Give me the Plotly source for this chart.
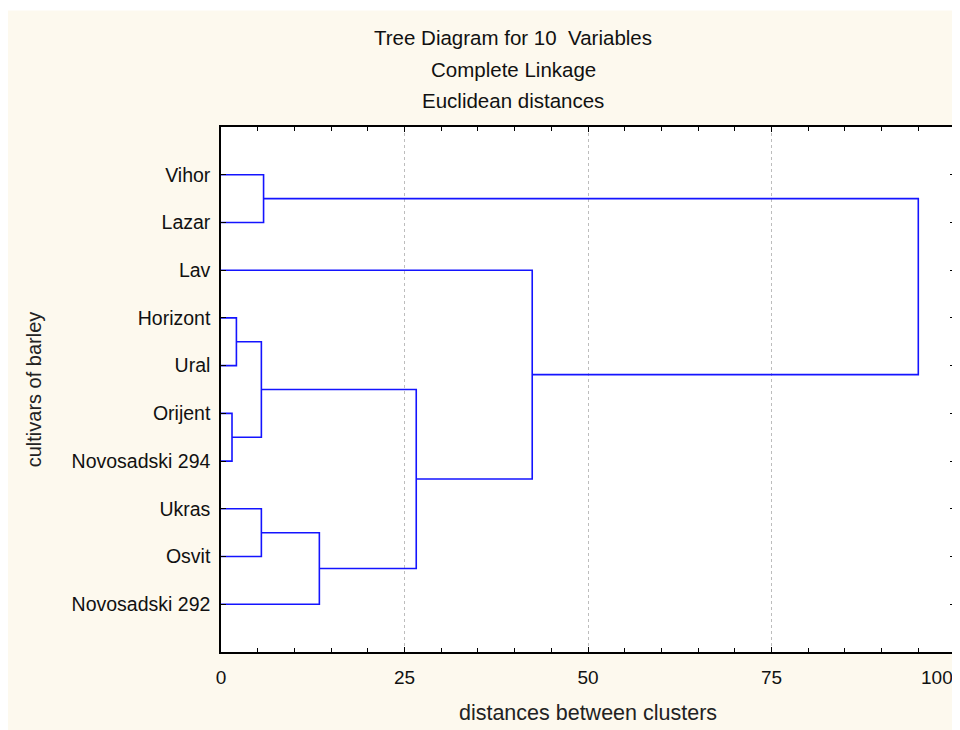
import plotly.graph_objects as go

# ---- data ----
leaves = ["Vihor", "Lazar", "Lav", "Horizont", "Ural", "Orijent",
          "Novosadski 294", "Ukras", "Osvit", "Novosadski 292"]
# linkage: (left node, right node, distance); nodes >= 10 are earlier clusters
merge_left = [5, 3, 11, 7, 0, 13, 12, 2, 14]
merge_right = [6, 4, 10, 8, 1, 9, 15, 16, 17]
merge_dist = [1.5, 2.1, 5.5, 5.5, 5.8, 13.4, 26.6, 42.4, 95.0]
x_ticks = [0, 25, 50, 75, 100]
title_lines = ["Tree Diagram for 10  Variables", "Complete Linkage", "Euclidean distances"]

# ---- build dendrogram segments ----
n = len(leaves)
pos = {i: float(i) for i in range(n)}
hgt = {i: 0.0 for i in range(n)}
xs, ys = [], []
for k, (a, b, d) in enumerate(zip(merge_left, merge_right, merge_dist)):
    node = n + k
    xs += [hgt[a], d, d, hgt[b], None]
    ys += [pos[a], pos[a], pos[b], pos[b], None]
    pos[node] = (pos[a] + pos[b]) / 2
    hgt[node] = d

cream = "#fdf9ee"
font = "Liberation Sans, Arial, sans-serif"

fig = go.Figure()
fig.add_trace(go.Scatter(x=xs, y=ys, mode="lines",
                         line=dict(color="#1414ff", width=1.6),
                         hoverinfo="skip", showlegend=False))

# page has 8px body margin; figure coordinates below are relative to figure origin
OFF = 8
W, H = 952, 722
L, R, T, B = 221 - OFF, 960 - 955, 127 - OFF, 730 - 652
pw, ph = W - L - R, H - T - B

def px_x(px):
    return (px - OFF - L) / pw

def px_y(py):
    return (H - B - (py - OFF)) / ph

annotations = []
for txt, py in zip(title_lines, [38, 69, 100]):
    annotations.append(dict(text=txt, x=px_x(513), y=px_y(py), xref="paper", yref="paper",
                            xanchor="center", yanchor="middle", showarrow=False,
                            font=dict(family=font, size=20.5, color="#111")))
annotations.append(dict(text=str(x_ticks[-1]), x=x_ticks[-1], y=px_y(677), xref="x", yref="paper",
                        xanchor="right", yanchor="middle", showarrow=False,
                        font=dict(family=font, size=19, color="#111")))

fig.update_layout(
    width=W, height=H,
    margin=dict(l=L, r=R, t=T, b=B, autoexpand=False),
    paper_bgcolor=cream, plot_bgcolor="white",
    showlegend=False,
    annotations=annotations,
    shapes=[
        dict(type="rect", xref="paper", yref="paper", x0=px_x(0), x1=px_x(970), y0=px_y(10.5), y1=px_y(0),
             fillcolor="white", line=dict(width=0), layer="below"),
    ],
    xaxis=dict(
        range=[0, 100], tickmode="array", tickvals=x_ticks,
        ticktext=[str(v) for v in x_ticks[:-1]] + [""],
        ticks="inside", ticklen=5, tickcolor="black",
        showline=True, linecolor="black", linewidth=1.5, mirror="ticks",
        showgrid=True, gridcolor="#bdbdbd", griddash="dot", gridwidth=1,
        zeroline=False,
        minor=dict(dtick=5, tick0=0, ticks="inside", ticklen=4, tickcolor="black", showgrid=False),
        tickfont=dict(family=font, size=19, color="#111"),
        ticklabelstandoff=7,
        title=dict(text="distances between clusters", font=dict(family=font, size=21.5, color="#222"),
                   standoff=18),
        automargin=False,
    ),
    yaxis=dict(
        range=[n, -1], tickmode="array", tickvals=list(range(n)), ticktext=leaves,
        ticks="inside", ticklen=5, tickcolor="black",
        showline=True, linecolor="black", linewidth=1.5, mirror="ticks",
        showgrid=False, zeroline=False,
        tickfont=dict(family=font, size=19.5, color="#111"),
        ticklabelstandoff=5,
        title=dict(text="cultivars of barley", font=dict(family=font, size=20, color="#222"),
                   standoff=25),
        automargin=False,
    ),
)

fig.write_html("out.html")
